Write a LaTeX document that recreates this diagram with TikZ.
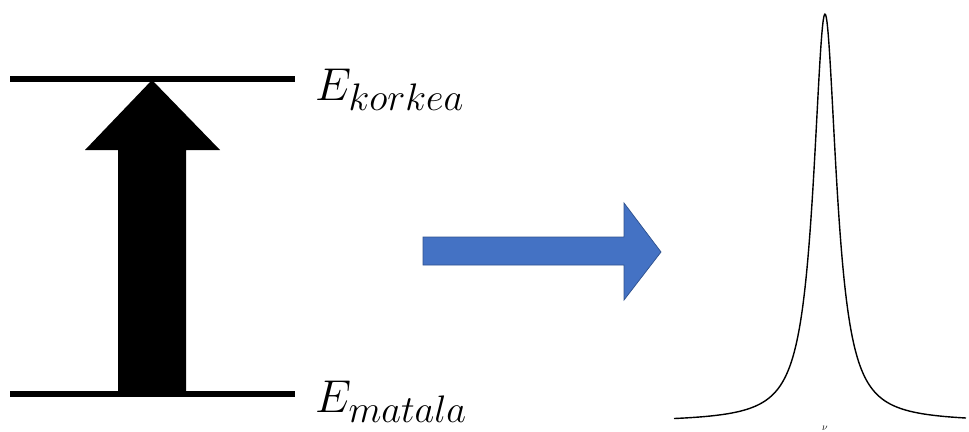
\documentclass[tikz,border=0pt]{standalone}
\usepackage{amsmath}
\newcommand{\biglabel}[1]{\scalebox{1.85}{\fontsize{24.88}{28}\selectfont$#1$}}
\begin{document}
\begin{tikzpicture}[x=1pt,y=-1pt,
  level/.style={line width=6pt},
  lbl/.style={anchor=base west,inner sep=0pt},
  bigarrow/.style={fill=black},
  flowarrow/.style={fill=arrowblue,draw=arrowedge,line width=0.75pt,line join=miter},
  spectrum/.style={line width=1.4pt,line join=round}]
\definecolor{arrowblue}{HTML}{4472C4}
\definecolor{arrowedge}{HTML}{2F528F}
\useasboundingbox (0,0) rectangle (969,431);

% energy levels
\coordinate (hiL) at (10,79);
\coordinate (hiR) at (295,79);
\coordinate (loL) at (10,394);
\coordinate (loR) at (295,394);
\draw[level] (hiL) -- (hiR);
\draw[level] (loL) -- (loR);

% level labels
\node[lbl] (ehi) at (315,100) {\biglabel{E_{korkea}}};
\node[lbl] (elo) at (315,412) {\biglabel{E_{matala}}};

% excitation arrow
\fill[bigarrow] (118,394) -- (118,150) -- (85,150) -- (152,80) -- (220,150)
  -- (186,150) -- (186,394) -- cycle;

% block arrow towards the spectrum
\draw[flowarrow] (423,237) -- (624,237) -- (624,203) -- (661,252)
  -- (624,300) -- (624,265) -- (423,265) -- cycle;

% Lorentzian line shape (half width 14)
\draw[spectrum] plot[domain=-15.1:14.1,samples=400,smooth]
  ({10*\x+825},{422-408*1.96/(\x*\x+1.96)});
\node[anchor=south,inner sep=0.5pt,font=\fontsize{10}{11}\selectfont] (nu) at (825,431) {$\nu$};
\end{tikzpicture}
\end{document}
